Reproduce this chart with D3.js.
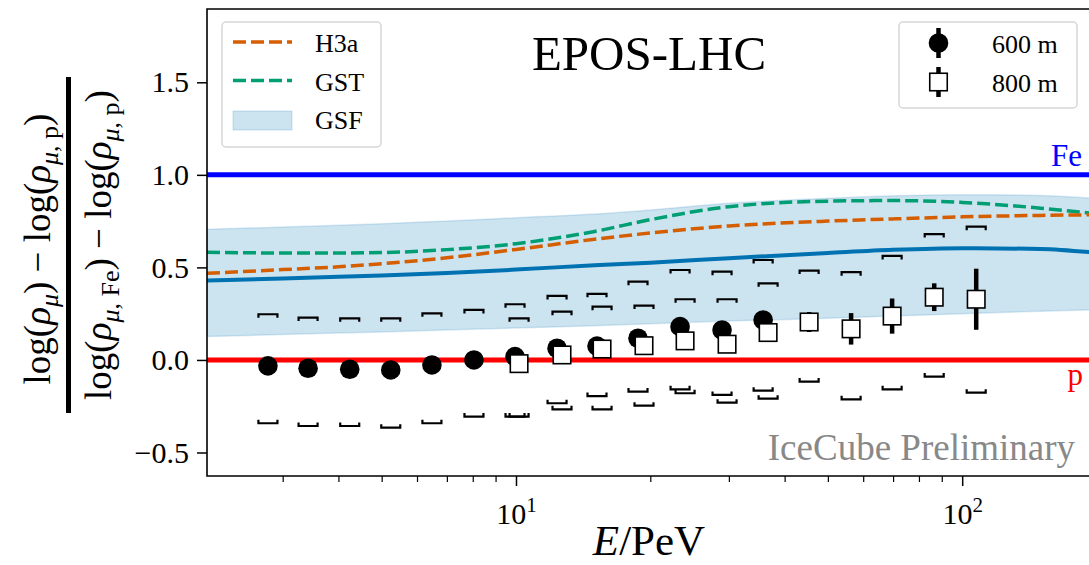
<!DOCTYPE html>
<html>
<head>
<meta charset="utf-8">
<script src="https://cdn.jsdelivr.net/npm/d3@7"></script>
<style>
  body { margin: 0; background: #fff; }
  svg text { font-family: "Liberation Serif", "Times New Roman", serif; }
</style>
</head>
<body>
<div id="chart"></div>
<script>
// 600 m station (filled circles)
const e600 = [2.78, 3.42, 4.24, 5.24, 6.48, 8.05, 9.95, 12.36, 15.19, 18.77, 23.32, 28.96, 35.8];
const val600 = [-0.032, -0.045, -0.05, -0.054, -0.027, 0.0, 0.018, 0.063, 0.075, 0.117, 0.18, 0.162, 0.216];
const err600 = [0.015, 0.015, 0.015, 0.015, 0.015, 0.015, 0.015, 0.018, 0.02, 0.02, 0.022, 0.025, 0.03];
const sysHi600 = [0.247, 0.229, 0.225, 0.225, 0.252, 0.27, 0.301, 0.346, 0.357, 0.423, 0.486, 0.477, 0.54];
const sysLo600 = [-0.342, -0.357, -0.357, -0.366, -0.342, -0.306, -0.306, -0.234, -0.195, -0.171, -0.159, -0.189, -0.166];

// 800 m station (open squares)
const e800 = [10.16, 12.68, 15.59, 19.36, 23.93, 29.72, 36.73, 45.39, 56.37, 69.66, 86.56, 107.5];
const val800 = [-0.02, 0.027, 0.059, 0.077, 0.103, 0.085, 0.148, 0.205, 0.168, 0.237, 0.339, 0.328];
const err800 = [0.02, 0.02, 0.02, 0.025, 0.03, 0.03, 0.035, 0.054, 0.085, 0.095, 0.075, 0.165];
const sysHi800 = [0.225, 0.261, 0.288, 0.294, 0.328, 0.328, 0.414, 0.483, 0.474, 0.562, 0.68, 0.72];
const sysLo800 = [-0.306, -0.267, -0.267, -0.247, -0.18, -0.231, -0.209, -0.117, -0.213, -0.159, -0.09, -0.177];

// model expectations
const eCurve = [2.03, 3, 4, 5, 7, 10, 15, 20, 30, 50, 70, 100, 150, 194.4];
const h3a = [0.468, 0.488, 0.503, 0.52, 0.552, 0.597, 0.652, 0.686, 0.724, 0.75, 0.762, 0.773, 0.781, 0.784];
const gst = [0.582, 0.578, 0.578, 0.58, 0.596, 0.628, 0.694, 0.758, 0.828, 0.858, 0.861, 0.851, 0.82, 0.793];
const gsf = [0.429, 0.44, 0.449, 0.456, 0.47, 0.488, 0.512, 0.525, 0.55, 0.578, 0.595, 0.604, 0.6, 0.582];
const gsfHi = [0.706, 0.718, 0.728, 0.736, 0.75, 0.768, 0.788, 0.81, 0.846, 0.873, 0.887, 0.893, 0.888, 0.874];
const gsfLo = [0.126, 0.137, 0.145, 0.151, 0.162, 0.172, 0.185, 0.195, 0.21, 0.225, 0.237, 0.25, 0.263, 0.27];

const yTicks = [-0.5, 0, 0.5, 1.0, 1.5];
const xMajor = [10, 100];
const xMinor = [3, 4, 5, 6, 7, 8, 9, 20, 30, 40, 50, 60, 70, 80, 90];

const W = 1089, H = 565;
const MARGIN = { LEFT: 207, RIGHT: 1091, TOP: 9, BOTTOM: 476 };

const svg = d3.select("#chart").append("svg")
    .attr("width", W).attr("height", H);

const x = d3.scaleLog().domain([2.03, 194.4]).range([MARGIN.LEFT, MARGIN.RIGHT]);
const y = d3.scaleLinear().domain([-0.627, 1.896]).range([MARGIN.BOTTOM, MARGIN.TOP]);

svg.append("clipPath").attr("id", "plot-clip")
    .append("rect")
    .attr("x", MARGIN.LEFT).attr("y", MARGIN.TOP)
    .attr("width", MARGIN.RIGHT - MARGIN.LEFT).attr("height", MARGIN.BOTTOM - MARGIN.TOP);

const plot = svg.append("g").attr("clip-path", "url(#plot-clip)");

const curveRows = eCurve.map((e, i) => ({ e, h3a: h3a[i], gst: gst[i], gsf: gsf[i], hi: gsfHi[i], lo: gsfLo[i] }));

// GSF band
plot.append("path")
    .datum(curveRows)
    .attr("d", d3.area().curve(d3.curveMonotoneX)
        .x(d => x(d.e)).y0(d => y(d.lo)).y1(d => y(d.hi)))
    .attr("fill", "#0072b2").attr("fill-opacity", 0.2)
    .attr("stroke", "#0072b2").attr("stroke-opacity", 0.15).attr("stroke-width", 1.5);

const lineOf = key => d3.line().curve(d3.curveMonotoneX).x(d => x(d.e)).y(d => y(d[key]));

plot.append("path").datum(curveRows).attr("d", lineOf("gst"))
    .attr("fill", "none").attr("stroke", "#009e73").attr("stroke-width", 3.5)
    .attr("stroke-dasharray", "13,5");
plot.append("path").datum(curveRows).attr("d", lineOf("h3a"))
    .attr("fill", "none").attr("stroke", "#d55e00").attr("stroke-width", 3.5)
    .attr("stroke-dasharray", "13,5");
plot.append("path").datum(curveRows).attr("d", lineOf("gsf"))
    .attr("fill", "none").attr("stroke", "#0072b2").attr("stroke-width", 4);

// pure proton / iron references
plot.append("line")
    .attr("x1", MARGIN.LEFT).attr("x2", MARGIN.RIGHT)
    .attr("y1", y(1)).attr("y2", y(1))
    .attr("stroke", "#0000ff").attr("stroke-width", 5);
plot.append("line")
    .attr("x1", MARGIN.LEFT).attr("x2", MARGIN.RIGHT)
    .attr("y1", y(0)).attr("y2", y(0))
    .attr("stroke", "#ff0000").attr("stroke-width", 5);

// data rows
const rows600 = e600.map((e, i) => ({ e, v: val600[i], err: err600[i], hi: sysHi600[i], lo: sysLo600[i] }));
const rows800 = e800.map((e, i) => ({ e, v: val800[i], err: err800[i], hi: sysHi800[i], lo: sysLo800[i] }));

// systematic brackets
function brackets(rows, cls) {
    const hw = 9.5, tk = 3.5;
    plot.selectAll("." + cls + "-hi").data(rows).join("path")
        .attr("class", cls + "-hi")
        .attr("d", d => `M${x(d.e) - hw},${y(d.hi) + tk}V${y(d.hi)}H${x(d.e) + hw}V${y(d.hi) + tk}`)
        .attr("fill", "none").attr("stroke", "#000").attr("stroke-width", 2.2);
    plot.selectAll("." + cls + "-lo").data(rows).join("path")
        .attr("class", cls + "-lo")
        .attr("d", d => `M${x(d.e) - hw},${y(d.lo) - tk}V${y(d.lo)}H${x(d.e) + hw}V${y(d.lo) - tk}`)
        .attr("fill", "none").attr("stroke", "#000").attr("stroke-width", 2.2);
}
brackets(rows600, "s600");
brackets(rows800, "s800");

// statistical error bars + markers
plot.selectAll(".eb600").data(rows600).join("line")
    .attr("class", "eb600")
    .attr("x1", d => x(d.e)).attr("x2", d => x(d.e))
    .attr("y1", d => y(d.v - d.err)).attr("y2", d => y(d.v + d.err))
    .attr("stroke", "#000").attr("stroke-width", 4.5);
plot.selectAll(".m600").data(rows600).join("circle")
    .attr("class", "m600")
    .attr("cx", d => x(d.e)).attr("cy", d => y(d.v)).attr("r", 9.8)
    .attr("fill", "#000");

plot.selectAll(".eb800").data(rows800).join("line")
    .attr("class", "eb800")
    .attr("x1", d => x(d.e)).attr("x2", d => x(d.e))
    .attr("y1", d => y(d.v - d.err)).attr("y2", d => y(d.v + d.err))
    .attr("stroke", "#000").attr("stroke-width", 4.5);
const sq = 17.5;
plot.selectAll(".m800").data(rows800).join("rect")
    .attr("class", "m800")
    .attr("x", d => x(d.e) - sq / 2).attr("y", d => y(d.v) - sq / 2)
    .attr("width", sq).attr("height", sq)
    .attr("fill", "#fff").attr("stroke", "#000").attr("stroke-width", 1.6);

// axes
const yAxis = svg.append("g")
    .attr("transform", `translate(${MARGIN.LEFT},0)`)
    .call(d3.axisLeft(y).tickValues(yTicks).tickSize(10).tickPadding(8).tickSizeOuter(0)
        .tickFormat(d3.format(".1f")));
yAxis.select(".domain").remove();
yAxis.selectAll("line").attr("stroke-width", 1.5);
yAxis.selectAll("text").attr("font-size", 30).attr("font-family", "Liberation Serif").attr("fill", "#000");

const xAxis = svg.append("g")
    .attr("transform", `translate(0,${MARGIN.BOTTOM})`)
    .call(d3.axisBottom(x).tickValues(xMajor).tickSize(10).tickPadding(17).tickSizeOuter(0)
        .tickFormat(() => ""));
xAxis.select(".domain").remove();
xAxis.selectAll("line").attr("stroke-width", 1.5);
xAxis.selectAll(".tick text")
    .attr("font-size", 30).attr("font-family", "Liberation Serif").attr("fill", "#000")
    .each(function(d) {
        const t = d3.select(this);
        t.append("tspan").text("10");
        t.append("tspan").attr("font-size", 21).attr("dy", -12).text(Math.round(Math.log10(d)));
    });

const xMinorAxis = svg.append("g")
    .attr("transform", `translate(0,${MARGIN.BOTTOM})`)
    .call(d3.axisBottom(x).tickValues(xMinor).tickSize(6).tickSizeOuter(0).tickFormat(() => ""));
xMinorAxis.select(".domain").remove();
xMinorAxis.selectAll("line").attr("stroke-width", 1.2);

// frame
svg.append("path")
    .attr("d", `M${MARGIN.RIGHT},${MARGIN.TOP}H${MARGIN.LEFT}V${MARGIN.BOTTOM}H${MARGIN.RIGHT}`)
    .attr("fill", "none").attr("stroke", "#000").attr("stroke-width", 1.6);

// texts inside the axes
svg.append("text")
    .attr("x", 649).attr("y", 70).attr("text-anchor", "middle")
    .attr("font-size", 49).text("EPOS-LHC");
svg.append("text")
    .attr("x", 1082).attr("y", 166).attr("text-anchor", "end")
    .attr("font-size", 31).attr("fill", "#0000ff").text("Fe");
svg.append("text")
    .attr("x", 1083).attr("y", 385).attr("text-anchor", "end")
    .attr("font-size", 31).attr("fill", "#ff0000").text("p");
svg.append("text")
    .attr("x", 1075).attr("y", 460).attr("text-anchor", "end")
    .attr("font-size", 37).attr("fill", "#888").text("IceCube Preliminary");

// x label
const xl = svg.append("text")
    .attr("x", 649).attr("y", 555).attr("text-anchor", "middle").attr("font-size", 43);
xl.append("tspan").attr("font-style", "italic").text("E");
xl.append("tspan").text("/PeV");

// y label, as a fraction
function mathText(g, pieces) {
    const t = g.append("text").attr("text-anchor", "middle").attr("font-size", 37);
    pieces.forEach(p => {
        t.append("tspan")
            .attr("font-style", p.i ? "italic" : null)
            .attr("font-size", p.sub ? 26 : null)
            .attr("dy", p.dy || null)
            .text(p.t);
    });
}
const num = svg.append("g").attr("transform", "translate(50,249) rotate(-90)");
mathText(num, [
    { t: "log(" }, { t: "ρ", i: true }, { t: "μ", i: true, sub: true, dy: 8 }, { t: ")", dy: -8 },
    { t: " − log(" }, { t: "ρ", i: true }, { t: "μ", i: true, sub: true, dy: 8 }, { t: ", p", sub: true },
    { t: ")", dy: -8 }
]);
const den = svg.append("g").attr("transform", "translate(111,245) rotate(-90)");
mathText(den, [
    { t: "log(" }, { t: "ρ", i: true }, { t: "μ", i: true, sub: true, dy: 8 }, { t: ", Fe", sub: true },
    { t: ")", dy: -8 },
    { t: " − log(" }, { t: "ρ", i: true }, { t: "μ", i: true, sub: true, dy: 8 }, { t: ", p", sub: true },
    { t: ")", dy: -8 }
]);
svg.append("rect").attr("x", 66).attr("y", 77).attr("width", 5).attr("height", 336).attr("fill", "#000");

// legend, left
const legL = svg.append("g");
legL.append("rect").attr("x", 222).attr("y", 22).attr("width", 159).attr("height", 125).attr("rx", 4)
    .attr("fill", "#fff").attr("fill-opacity", 0.8).attr("stroke", "#d6d6d6").attr("stroke-width", 1.5);
const legItems = [
    { name: "H3a", color: "#d55e00" },
    { name: "GST", color: "#009e73" }
];
legItems.forEach((d, i) => {
    const ly = 42 + i * 38.5;
    legL.append("line").attr("x1", 233).attr("x2", 292).attr("y1", ly).attr("y2", ly)
        .attr("stroke", d.color).attr("stroke-width", 3.5).attr("stroke-dasharray", "13,5");
    legL.append("text").attr("x", 315).attr("y", ly + 10).attr("font-size", 26).text(d.name);
});
legL.append("rect").attr("x", 233).attr("y", 111).attr("width", 59).attr("height", 19)
    .attr("fill", "#0072b2").attr("fill-opacity", 0.2).attr("stroke", "#0072b2").attr("stroke-opacity", 0.2);
legL.append("text").attr("x", 315).attr("y", 129).attr("font-size", 26).text("GSF");

// legend, right
const legR = svg.append("g");
legR.append("rect").attr("x", 899).attr("y", 22).attr("width", 178).attr("height", 86).attr("rx", 4)
    .attr("fill", "#fff").attr("fill-opacity", 0.8).attr("stroke", "#d6d6d6").attr("stroke-width", 1.5);
legR.append("line").attr("x1", 938.5).attr("x2", 938.5).attr("y1", 28).attr("y2", 58)
    .attr("stroke", "#000").attr("stroke-width", 4.5);
legR.append("circle").attr("cx", 938.5).attr("cy", 43).attr("r", 9.8).attr("fill", "#000");
legR.append("line").attr("x1", 938.5).attr("x2", 938.5).attr("y1", 67).attr("y2", 97)
    .attr("stroke", "#000").attr("stroke-width", 4.5);
legR.append("rect").attr("x", 938.5 - sq / 2).attr("y", 82 - sq / 2).attr("width", sq).attr("height", sq)
    .attr("fill", "#fff").attr("stroke", "#000").attr("stroke-width", 1.6);
legR.append("text").attr("x", 992).attr("y", 53).attr("font-size", 26).text("600 m");
legR.append("text").attr("x", 992).attr("y", 92).attr("font-size", 26).text("800 m");
</script>
</body>
</html>
